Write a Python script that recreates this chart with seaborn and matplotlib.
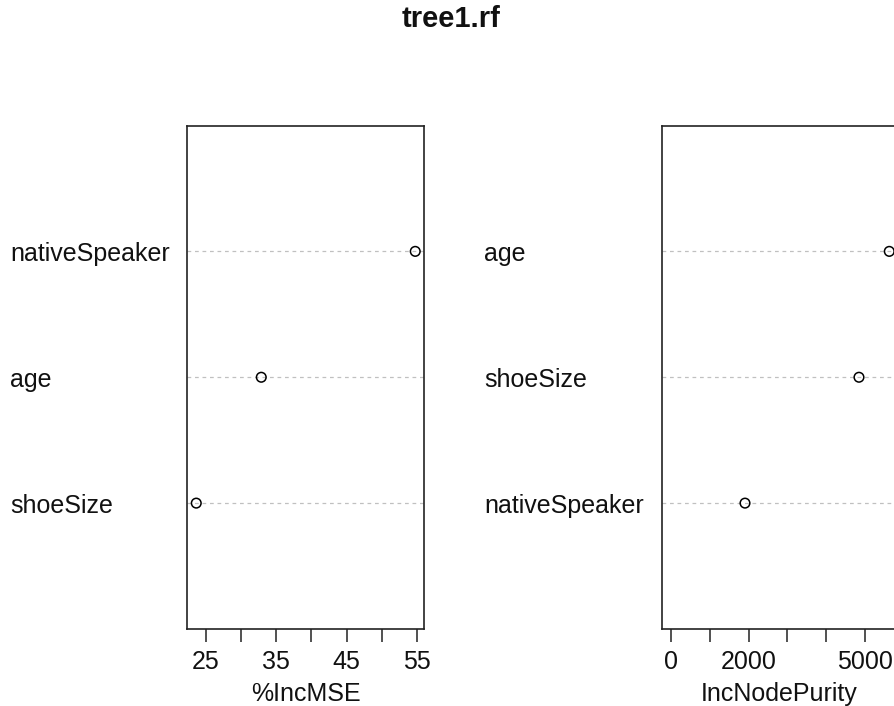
import matplotlib
matplotlib.use("Agg")
import matplotlib.pyplot as plt
import matplotlib.transforms as mtransforms
import seaborn as sns
import pandas as pd

sns.set_theme(style="white")
plt.rcParams["font.family"] = ["Liberation Sans", "DejaVu Sans"]

# variable importance, listed bottom row first
mse_vars = ["shoeSize", "age", "nativeSpeaker"]
inc_mse = [23.65, 32.88, 54.74]
purity_vars = ["nativeSpeaker", "shoeSize", "age"]
inc_node_purity = [1907, 4845, 5626]

mse_ticks = [25, 30, 35, 40, 45, 50, 55]
mse_ticklabels = ["25", "", "35", "", "45", "", "55"]
purity_ticks = [0, 1000, 2000, 3000, 4000, 5000]
purity_ticklabels = ["0", "", "2000", "", "", "5000"]

W, H = 895, 706
fig = plt.figure(figsize=(W / 100, H / 100), dpi=100)
fig.patch.set_facecolor("white")

FS = 18.0


def panel(rect, names, values, xlim, ticks, ticklabels, xlabel, label_x):
    ax = fig.add_axes(rect)
    df = pd.DataFrame({"var": names, "val": values, "pos": range(1, len(names) + 1)})
    for p in df["pos"]:
        ax.axhline(p, color="#c0c0c0", lw=0.9, ls=(0, (3, 3)), zorder=1)
    sns.scatterplot(data=df, x="val", y="pos", ax=ax, marker="o", s=48,
                    facecolors="none", edgecolors="black", linewidth=1.1,
                    zorder=3, legend=False)
    ax.set_xlim(*xlim)
    ax.set_ylim(0, len(names) + 1)
    ax.set_yticks([])
    ax.set_ylabel("")
    ax.set_xticks(ticks)
    ax.set_xticklabels(ticklabels, fontsize=FS, color="#111111")
    ax.tick_params(axis="x", direction="out", length=9, width=1.1,
                   color="#222222", pad=6, bottom=True)
    ax.set_xlabel("")
    for s in ax.spines.values():
        s.set_color("#222222")
        s.set_linewidth(1.2)
        s.set_visible(True)
    trans = mtransforms.blended_transform_factory(fig.transFigure, ax.transData)
    for name, p in zip(df["var"], df["pos"]):
        ax.text(label_x / W, p, name, transform=trans, ha="left",
                va="center_baseline", fontsize=FS, color="#111111")
    # axis title sits with its baseline just above the bottom edge
    xt = mtransforms.blended_transform_factory(ax.transAxes, fig.transFigure)
    vis_right = min(1.0, (1.0 - rect[0]) / rect[2])
    ax.text(vis_right / 2 if vis_right < 1 else 0.5, 1 - 701 / H, xlabel,
            transform=xt, ha="center", va="baseline", fontsize=FS,
            color="#111111")
    return ax


bottom = 1 - 629 / H
height = (629 - 125.5) / H

lo, hi = min(inc_mse), max(inc_mse)
pad = 0.04 * (hi - lo)
panel([187.5 / W, bottom, (424 - 187.5) / W, height], mse_vars, inc_mse,
      (lo - pad, hi + pad), mse_ticks, mse_ticklabels, "%IncMSE", 10)

hi2 = max(inc_node_purity)
pad2 = 0.04 * hi2
panel([662.3 / W, bottom, (898 - 662.3) / W, height], purity_vars, inc_node_purity,
      (-pad2, hi2 + pad2), purity_ticks, purity_ticklabels, "IncNodePurity", 484)

fig.text(451 / W, 1 - 19 / H, "tree1.rf", ha="center", va="center",
         fontsize=21, fontweight="bold", color="#111111")

fig.savefig("out.png", dpi=100, facecolor="white")
